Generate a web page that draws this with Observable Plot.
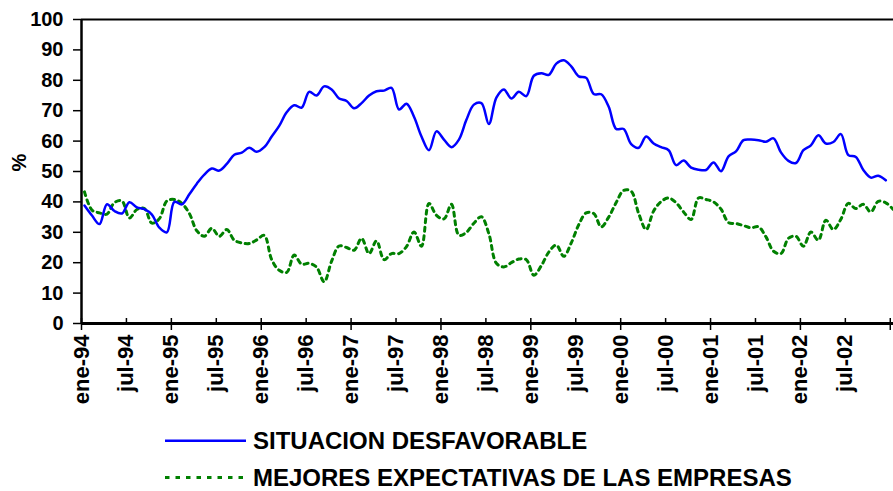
<!DOCTYPE html>
<html>
<head>
<meta charset="utf-8">
<script src="https://cdn.jsdelivr.net/npm/d3@7"></script>
<script src="https://cdn.jsdelivr.net/npm/@observablehq/plot@0.6"></script>
<style>
  html, body { margin: 0; padding: 0; background: #fff; }
  #chart { width: 893px; height: 491px; position: relative; overflow: hidden; }
  svg { display: block; }
</style>
</head>
<body>
<div id="chart"></div>
<script>
// Series names (legend)
const seriesNames = ["SITUACION DESFAVORABLE", "MEJORES EXPECTATIVAS DE LAS EMPRESAS"];

// X tick labels, one every 6 months starting ene-94
const tickLabels = ["ene-94","jul-94","ene-95","jul-95","ene-96","jul-96","ene-97","jul-97","ene-98",
  "jul-98","ene-99","jul-99","ene-00","jul-00","ene-01","jul-01","ene-02","jul-02"];

// Monthly values, from ene-94
const situacion = [
  38.8, 35.5, 32.7, 39.2, 37.0, 36.2, 39.9, 38.2, 37.6, 35.8, 31.5, 30.0,
  40.0, 39.2, 42.5, 46.0, 49.0, 51.0, 50.3, 52.5, 55.5, 56.2, 57.8, 56.5,
  58.0, 61.5, 65.0, 69.5, 71.8, 71.0, 76.2, 75.0, 78.0, 77.0, 74.0, 73.2,
  70.8, 72.5, 75.0, 76.4, 76.6, 77.5, 70.4, 72.3, 68.0, 61.5, 57.0, 63.2,
  60.5, 58.0, 60.5, 67.0, 72.0, 72.5, 65.6, 74.3, 77.0, 74.0, 76.2, 74.8,
  81.5, 82.3, 81.8, 85.5, 86.6, 84.6, 81.3, 80.8, 75.5, 75.4, 71.3, 64.0,
  64.0, 59.0, 57.8, 61.5, 59.2, 58.0, 57.0, 52.1, 53.6, 51.3, 50.6, 50.5,
  53.0, 50.1, 55.0, 56.6, 60.3, 60.5, 60.3, 59.8, 60.9, 56.3, 53.5, 52.8,
  57.0, 58.6, 61.9, 59.2, 59.7, 62.3, 55.4, 54.8, 50.5, 48.0, 48.6, 47.1
];
const mejores = [
  43.3, 37.3, 36.4, 36.0, 39.8, 40.3, 34.7, 37.5, 37.8, 33.0, 34.5, 40.3,
  40.8, 39.5, 36.2, 30.5, 28.7, 31.3, 28.7, 30.9, 27.4, 26.5, 26.3, 27.5,
  29.0, 21.0, 17.5, 16.8, 22.5, 19.5, 19.8, 18.5, 13.7, 20.5, 25.5, 25.0,
  24.1, 28.0, 23.0, 27.2, 21.0, 23.0, 23.0, 25.3, 30.1, 25.4, 39.5, 35.6,
  34.4, 39.2, 29.0, 30.0, 33.0, 35.1, 29.5, 19.8, 18.6, 20.0, 21.2, 21.0,
  15.9, 19.0, 23.5, 25.8, 22.1, 26.5, 32.5, 36.4, 36.2, 31.8, 35.0, 39.8,
  43.8, 43.5, 36.2, 30.9, 37.0, 40.1, 41.3, 39.7, 36.7, 34.2, 41.3, 40.8,
  40.0, 37.6, 33.2, 32.9, 32.2, 31.5, 31.8, 28.5, 23.8, 23.0, 28.0, 28.7,
  25.4, 30.1, 27.4, 34.0, 30.9, 34.3, 39.5, 37.8, 39.2, 36.7, 40.2, 39.7,
  37.5
];

const yTicks = d3.range(0, 101, 10);

// Build tables (month index; points sit slightly after the month start)
const midOffset = 0.4;
const dataA = situacion.map((v, i) => ({m: i + midOffset, v}));
const dataB = mejores.map((v, i) => ({m: i + midOffset, v}));
const tickPos = tickLabels.map((_, i) => i * 6);
const majorTicks = d3.range(0, 109, 12);
const minorTicks = d3.range(6, 109, 12);

const font = "'Liberation Sans', Arial, Helvetica, sans-serif";
const greenDash = "4,4.5";

const plot = Plot.plot({
  width: 893,
  height: 420,
  marginLeft: 81,
  marginRight: 0,
  marginTop: 19,
  marginBottom: 97,
  style: {fontFamily: font, background: "#fff", overflow: "visible", color: "#000"},
  x: {type: "linear", domain: [0, 108.43]},
  y: {domain: [0, 100]},
  marks: [
    Plot.ruleY([100], {stroke: "#000", strokeWidth: 2}),
    Plot.line(dataB, {x: "m", y: "v", stroke: "#008000", strokeWidth: 3, strokeDasharray: greenDash, curve: "catmull-rom"}),
    Plot.line(dataA, {x: "m", y: "v", stroke: "#0000ff", strokeWidth: 2.5, curve: "catmull-rom"}),
    Plot.ruleX(majorTicks, {x: d => d, y1: 0, y2: 0, insetTop: -5, insetBottom: -7, stroke: "#000", strokeWidth: 1.5}),
    Plot.ruleX(minorTicks, {x: d => d, y1: 0, y2: 0, insetTop: -5, insetBottom: 0, stroke: "#000", strokeWidth: 1.5}),
    Plot.ruleY([0], {stroke: "#000", strokeWidth: 3}),
    Plot.ruleX([0], {stroke: "#000", strokeWidth: 2.5}),
    Plot.axisY({ticks: yTicks, tickSize: 8, tickPadding: 10, tickFormat: d => String(d), fontSize: 20, fontWeight: "bold", label: null, strokeWidth: 1.5}),
    Plot.axisX({ticks: tickPos, tickSize: 0, tickPadding: 11, tickRotate: -90, tickFormat: d => tickLabels[Math.round(d / 6)], fontSize: 22, fontWeight: "bold", label: null}),
    Plot.text(["%"], {frameAnchor: "left", dx: -62, dy: 0, rotate: -90, fontSize: 20, fontWeight: "bold", fill: "#000", text: d => d})
  ]
});

const chart = document.getElementById("chart");
chart.appendChild(plot);

// Legend below the plot
const legendColors = ["#0000ff", "#008000"];
const legendDash = [null, "4.5,6"];
const legendWidth = [2.5, 3];
const legend = d3.create("svg").attr("width", 893).attr("height", 71)
  .style("font-family", font);
seriesNames.forEach((name, i) => {
  const cy = i === 0 ? 20.7 : 57.5;
  legend.append("line").attr("x1", 165).attr("x2", 246).attr("y1", cy).attr("y2", cy)
    .attr("stroke", legendColors[i]).attr("stroke-width", legendWidth[i])
    .attr("stroke-dasharray", legendDash[i]);
  legend.append("text").attr("x", 253).attr("y", cy + 8.5)
    .attr("font-size", 24).attr("font-weight", "bold").attr("fill", "#000").text(name);
});
chart.appendChild(legend.node());
</script>
</body>
</html>
